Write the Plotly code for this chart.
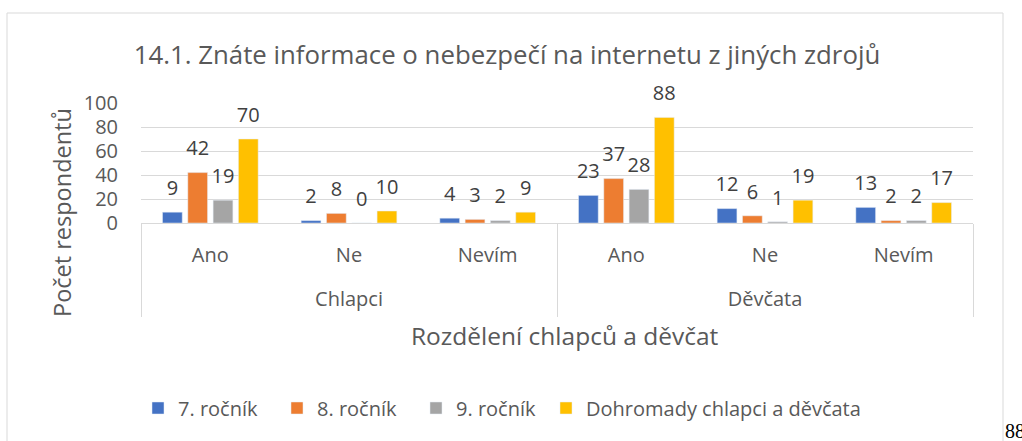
import plotly.graph_objects as go

groups = ["Chlapci", "Chlapci", "Chlapci", "Děvčata", "Děvčata", "Děvčata"]
answers = ["Ano", "Ne", "Nevím", "Ano", "Ne", "Nevím"]
series_names = ["7. ročník", "8. ročník", "9. ročník", "Dohromady chlapci a děvčata"]
r7 = [9, 2, 4, 23, 12, 13]
r8 = [42, 8, 3, 37, 6, 2]
r9 = [19, 0, 2, 28, 1, 2]
total = [70, 10, 9, 88, 19, 17]
y_ticks = [0, 20, 40, 60, 80, 100]

title_text = "14.1. Znáte informace o nebezpečí na internetu z jiných zdrojů"
y_title = "Počet respondentů"
x_title = "Rozdělení chlapců a děvčat"

colors = ["#4472C4", "#ED7D31", "#A5A5A5", "#FFC000"]
FONT = "Open Sans"
TXT = "#595959"
GRID = "#D9D9D9"
W, H = 1022, 441
L, R, T, B = 141, 49, 103, 218
pw, ph = W - L - R, H - T - B

def px_x(px):
    return (px - L) / pw

def px_y(py):
    return (H - B - py) / ph

# category positions on the axis (index of each answer), group centres and boundaries
idx = list(range(len(answers)))
group_names = list(dict.fromkeys(groups))
group_centers = [sum(i for i, g in zip(idx, groups) if g == gn) / groups.count(gn) for gn in group_names]
boundaries = [-0.5] + [i + 0.5 for i in range(len(groups) - 1) if groups[i] != groups[i + 1]] + [len(groups) - 0.5]

fig = go.Figure()
for i, (name, vals, col) in enumerate(zip(series_names, [r7, r8, r9, total], colors)):
    fig.add_trace(go.Bar(x=idx, y=vals, name=name, marker_color=col,
                         offsetgroup=name, hoverinfo="skip",
                         legend="legend" if i < 3 else "legend2"))
for name, vals in zip(series_names, [r7, r8, r9, total]):
    fig.add_trace(go.Scatter(x=idx, y=vals, mode="markers+text", text=[str(v) for v in vals],
                             textposition="top center", offsetgroup=name,
                             marker=dict(size=18, opacity=0), showlegend=False,
                             textfont=dict(family=FONT, size=20, color="#404040"),
                             cliponaxis=False, hoverinfo="skip"))
# invisible trace to activate the second (group-level) x axis
fig.add_trace(go.Scatter(x=group_centers, y=[None] * len(group_centers), xaxis="x2",
                         showlegend=False, hoverinfo="skip", mode="markers"))

leg_font = dict(family=FONT, size=20, color=TXT)
fig.update_layout(
    width=W, height=H,
    margin=dict(l=L, r=R, t=T, b=B, pad=0),
    paper_bgcolor="white", plot_bgcolor="white",
    barmode="group", bargap=0.27, bargroupgap=0.22,
    scattermode="group", scattergap=0.27,
    font=dict(family=FONT, size=20, color=TXT),
    title=dict(text=title_text, x=507 / W, xref="container", xanchor="center",
               y=1 - 55 / H, yref="container", yanchor="middle",
               font=dict(family=FONT, size=25.8, color=TXT)),
    legend=dict(orientation="h", x=px_x(138), xanchor="left", y=px_y(408), yanchor="middle",
                entrywidth=94, entrywidthmode="pixels", font=leg_font, itemclick=False,
                bgcolor="rgba(0,0,0,0)"),
    legend2=dict(orientation="h", x=px_x(546), xanchor="left", y=px_y(408), yanchor="middle",
                 font=leg_font, itemclick=False, bgcolor="rgba(0,0,0,0)"),
    showlegend=True,
    xaxis=dict(type="linear", range=[-0.5, len(answers) - 0.5], tickmode="array",
               tickvals=idx, ticktext=answers, ticks="", ticklabelstandoff=14,
               showgrid=False, zeroline=False, showline=True, linecolor=GRID, linewidth=1,
               tickfont=dict(family=FONT, size=20, color=TXT), fixedrange=True),
    xaxis2=dict(type="linear", overlaying="x", matches="x", side="bottom", anchor="y",
                tickmode="array", tickvals=group_centers, ticktext=group_names,
                ticks="", ticklabelstandoff=62, showgrid=False, zeroline=False, showline=False,
                minor=dict(tickmode="array", tickvals=boundaries, ticks="outside", ticklen=93,
                           tickcolor=GRID, tickwidth=1, showgrid=False),
                tickfont=dict(family=FONT, size=20, color=TXT), fixedrange=True),
    yaxis=dict(range=[0, 100], tickvals=y_ticks, showgrid=True, gridcolor=GRID,
               zeroline=False, showline=False, ticks="", ticklabelstandoff=22,
               tickfont=dict(family=FONT, size=20, color=TXT), fixedrange=True),
)

fig.add_annotation(text=y_title, textangle=-90, xref="paper", yref="paper",
                   x=px_x(62), y=px_y(213), xanchor="center", yanchor="middle",
                   showarrow=False, font=dict(family=FONT, size=23.5, color=TXT))
fig.add_annotation(text=x_title, xref="paper", yref="paper",
                   x=px_x(565), y=px_y(335), xanchor="center", yanchor="middle",
                   showarrow=False, font=dict(family=FONT, size=24.5, color=TXT))
fig.add_annotation(text="88", xref="paper", yref="paper",
                   x=px_x(1003), y=px_y(431), xanchor="left", yanchor="middle",
                   showarrow=False, font=dict(family="Liberation Serif", size=20, color="#000000"))
fig.add_shape(type="rect", xref="paper", yref="paper",
              x0=px_x(7), x1=px_x(1003), y0=px_y(470), y1=px_y(13),
              line=dict(color=GRID, width=1), fillcolor="rgba(0,0,0,0)", layer="below")

fig.write_html("out.html", config={"displayModeBar": False, "staticPlot": True},
               post_script="document.body.style.margin='0px';")
